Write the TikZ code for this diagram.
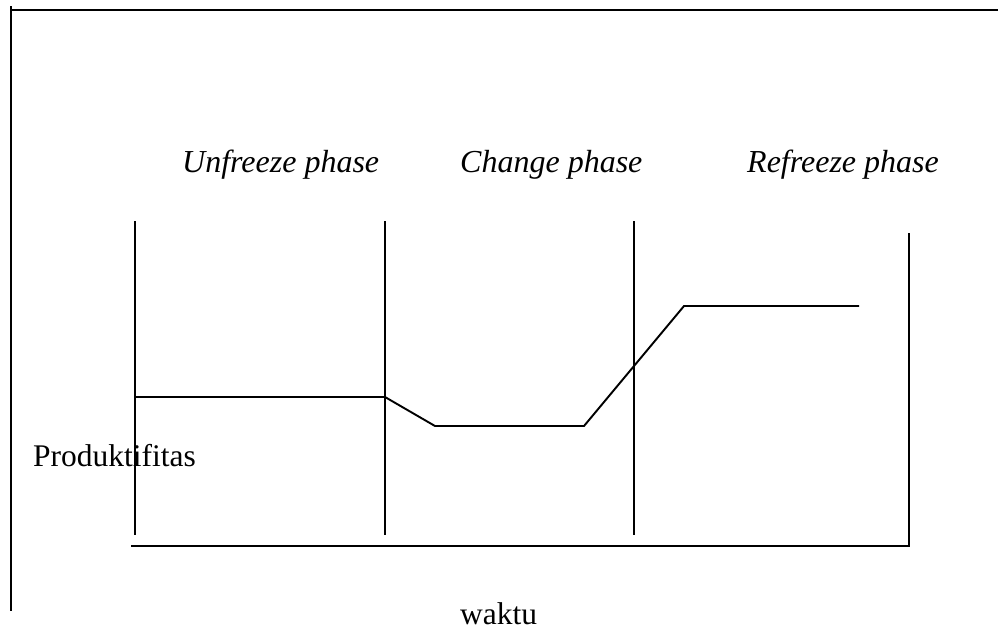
\documentclass[tikz,border=0pt]{standalone}
\usepackage{fontspec}
\setmainfont{Liberation Serif}
\begin{document}
\begin{tikzpicture}[x=1pt,y=-1pt,
  rule/.style={line width=1.9pt, line cap=rect},
  frameline/.style={line width=2.2pt},
  phaselabel/.style={anchor=base west, inner sep=0pt, font=\fontsize{32}{38}\selectfont\itshape},
  axislabel/.style={anchor=base west, inner sep=0pt, font=\fontsize{31.5}{37}\selectfont}]
\useasboundingbox (0,0) rectangle (998,637);
\fill[white] (0,0) rectangle (998,637);

% outer frame: top and left edges
\coordinate (frameTL) at (11,10);
\coordinate (frameTR) at (998,10);
\coordinate (frameLT) at (11,6);
\coordinate (frameBL) at (11,611);
\draw[frameline] (frameTR) -- (frameTL);
\draw[frameline] (frameLT) -- (frameBL);

% phase separators
\coordinate (s1t) at (135,222); \coordinate (s1b) at (135,534);
\coordinate (s2t) at (385,222); \coordinate (s2b) at (385,534);
\coordinate (s3t) at (634,222); \coordinate (s3b) at (634,534);
\coordinate (s4t) at (909,234); \coordinate (s4b) at (909,546);
\draw[rule] (s1t) -- (s1b);
\draw[rule] (s2t) -- (s2b);
\draw[rule] (s3t) -- (s3b);

% time axis with closing edge on the right
\coordinate (axisL) at (132,546);
\draw[rule] (axisL) -- (s4b) -- (s4t);

% productivity curve
\coordinate (p0) at (135,397);
\coordinate (p1) at (385,397);
\coordinate (p2) at (435,426);
\coordinate (p3) at (584,426);
\coordinate (p4) at (684,306);
\coordinate (p5) at (859,306);
\draw[rule, line join=miter, line cap=butt] (p0) -- (p1) -- (p2) -- (p3) -- (p4) -- (p5);

% labels
\node[phaselabel] (unfreeze) at (182,172) {Unfreeze phase};
\node[phaselabel] (change) at (460,172) {Change phase};
\node[phaselabel] (refreeze) at (747,172) {Refreeze phase};
\node[axislabel] (prod) at (33,466) {Produktifitas};
\node[axislabel] (waktu) at (460,624) {waktu};
\end{tikzpicture}
\end{document}
